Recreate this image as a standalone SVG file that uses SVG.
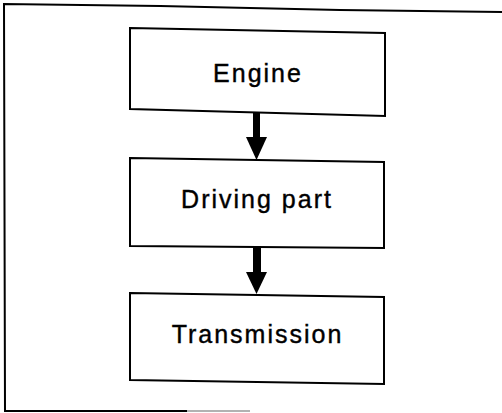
<svg xmlns="http://www.w3.org/2000/svg" width="502" height="413" viewBox="0 0 502 413">
<style>
.box{fill:#fff;stroke:#000;stroke-width:2;stroke-linejoin:miter}
.lbl{font-family:"Liberation Sans",Arial,sans-serif;font-size:25px;letter-spacing:2px;fill:#000;stroke:#000;stroke-width:0.4;text-anchor:middle}
.frame{fill:none;stroke:#000;stroke-width:2}
.arrow{fill:#000}
</style>
<rect width="502" height="413" fill="#fff"/>
<g id="frame">
<polyline class="frame" points="502,12 340,10 160,6 4,4 5,411 187,411"/>
<line x1="187" y1="411" x2="250" y2="411" stroke="#999" stroke-width="1.5"/>
</g>
<g id="engine">
<polygon class="box" points="130,28 385,33 385,116 130,109"/>
<text class="lbl" x="258" y="82">Engine</text>
</g>
<g id="driving">
<polygon class="box" points="130,158 384,162 384,248 130,246"/>
<text class="lbl" x="257" y="208">Driving part</text>
</g>
<g id="transmission">
<polygon class="box" points="130,293 384,297 384,384 130,380"/>
<text class="lbl" x="257.5" y="343">Transmission</text>
</g>
<g id="connectors">
<rect class="arrow" x="253" y="112" width="7" height="26"/>
<polygon class="arrow" points="246,137 267,137 256.5,160"/>
<rect class="arrow" x="253" y="247" width="8" height="26"/>
<polygon class="arrow" points="246,272 267,272 256.5,294"/>
</g>
</svg>
